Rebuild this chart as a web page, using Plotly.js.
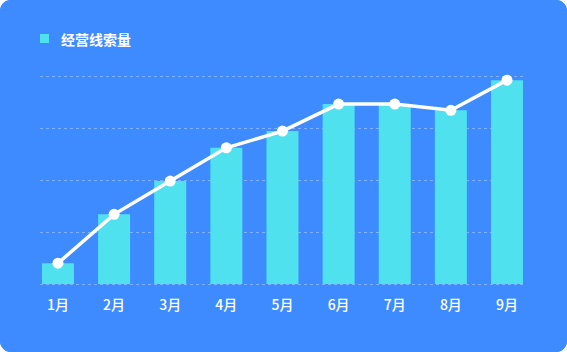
<!DOCTYPE html>
<html>
<head>
<meta charset="utf-8">
<script src="https://cdn.plot.ly/plotly-3.0.1.min.js"></script>
<style>
  html, body { margin: 0; padding: 0; background: #ffffff; }
  #chart { width: 567px; height: 352px; border-radius: 11px; overflow: hidden; background: #3d8bff; }
</style>
</head>
<body>
<div id="chart"></div>
<script>
const months = ["1月", "2月", "3月", "4月", "5月", "6月", "7月", "8月", "9月"];
const leadCounts = [20, 67, 99, 131, 147, 173, 173, 167, 196];
const seriesName = "经营线索量";

const bgBlue = "#3d8bff";
const cyan = "#4fe2ee";
const font = "'Noto Sans CJK SC', 'Noto Sans', sans-serif";

// plot area: x 40..523 px, y 70..290 px (value 0 at 284px, 200 at 76px)
const plotTop = 70, plotBottom = 290, plotH = plotBottom - plotTop;
const pxPerUnit = 208 / 200;
const py = (pix) => (plotBottom - pix) / plotH;

const traces = [
  {
    type: "bar",
    x: months,
    y: leadCounts,
    name: seriesName,
    width: 0.57,
    marker: { color: cyan, line: { width: 0 } },
    hoverinfo: "skip",
    showlegend: false
  },
  {
    type: "scatter",
    mode: "lines+markers",
    x: months,
    y: leadCounts,
    name: seriesName,
    line: { color: "#ffffff", width: 3.5 },
    marker: { color: "#ffffff", size: 11 },
    cliponaxis: false,
    hoverinfo: "skip",
    showlegend: false
  }
];

const layout = {
  width: 567,
  height: 352,
  paper_bgcolor: bgBlue,
  plot_bgcolor: "rgba(0,0,0,0)",
  margin: { l: 40, r: 44, t: plotTop, b: 352 - plotBottom, pad: 0 },
  showlegend: false,
  font: { family: font, color: "#ffffff" },
  xaxis: {
    type: "category",
    range: [-0.32, 8.285],
    showgrid: false,
    zeroline: false,
    showline: false,
    ticks: "",
    ticklabelstandoff: 5,
    tickfont: { family: font, size: 14, color: "#ffffff", weight: 500 },
    fixedrange: true
  },
  yaxis: {
    range: [-(plotBottom - 284) / pxPerUnit, 200 + (76 - plotTop) / pxPerUnit],
    tickvals: [0, 50, 100, 150, 200],
    showticklabels: false,
    showgrid: true,
    gridcolor: "rgba(255,255,255,0.35)",
    gridwidth: 1,
    griddash: "3px,3px",
    zeroline: false,
    showline: false,
    ticks: "",
    fixedrange: true
  },
  shapes: [
    {
      type: "rect", xref: "paper", yref: "paper",
      x0: 0, x1: 9 / 483, y0: py(43), y1: py(34),
      fillcolor: cyan, line: { width: 0 }
    }
  ],
  annotations: [
    {
      xref: "paper", yref: "paper",
      x: 19 / 483, y: py(39.5),
      xanchor: "left", yanchor: "middle",
      text: seriesName,
      showarrow: false,
      font: { family: font, size: 14, color: "#ffffff", weight: 600 }
    }
  ]
};

Plotly.newPlot("chart", traces, layout, { displayModeBar: false, staticPlot: true });
</script>
</body>
</html>
